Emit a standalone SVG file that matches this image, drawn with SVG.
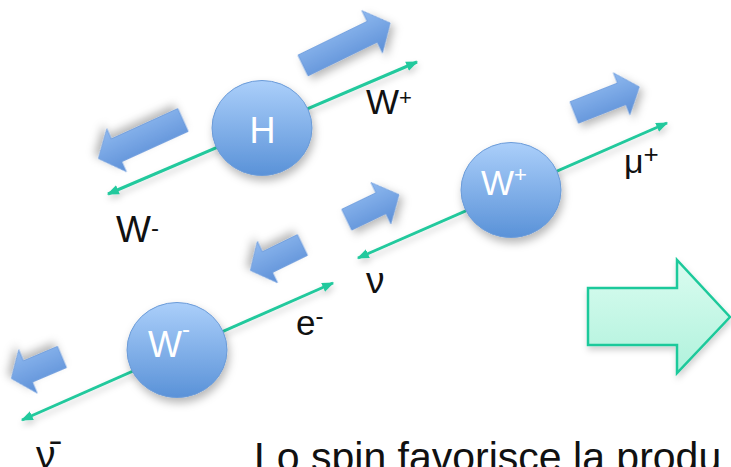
<svg xmlns="http://www.w3.org/2000/svg" width="731" height="467" viewBox="0 0 731 467">
<defs>
<linearGradient id="ball" x1="0" y1="0" x2="0" y2="1"><stop offset="0" stop-color="#abcffa"/><stop offset="1" stop-color="#5a92d8"/></linearGradient>
<linearGradient id="blk" x1="0" y1="0" x2="0" y2="1"><stop offset="0" stop-color="#8fb9ef"/><stop offset="1" stop-color="#5c8fd7"/></linearGradient>
<linearGradient id="blkR" x1="0" y1="1" x2="0" y2="0"><stop offset="0" stop-color="#8fb9ef"/><stop offset="1" stop-color="#5c8fd7"/></linearGradient>
<linearGradient id="mint" x1="0" y1="0" x2="0" y2="1"><stop offset="0" stop-color="#dafcf0"/><stop offset="1" stop-color="#b0f2dc"/></linearGradient>
<filter id="sh" x="-30%" y="-30%" width="160%" height="170%"><feDropShadow dx="2" dy="5" stdDeviation="4" flood-color="#000" flood-opacity="0.28"/></filter>
<filter id="shl" x="-10%" y="-30%" width="120%" height="160%"><feDropShadow dx="1" dy="4" stdDeviation="3" flood-color="#000" flood-opacity="0.18"/></filter>
<marker id="ah" viewBox="0 0 10 8" refX="9" refY="4" markerWidth="12" markerHeight="10" markerUnits="userSpaceOnUse" orient="auto-start-reverse"><path d="M0,0 L10,4 L0,8 Z" fill="#22c99d"/></marker>
</defs>
<style>
.ball{fill:url(#ball);stroke:#6b9bd8;stroke-width:1;filter:url(#sh)}
.blk{fill:url(#blk);stroke:#6a99dc;stroke-width:0.8;filter:url(#sh)}
.blkR{fill:url(#blkR);stroke:#6a99dc;stroke-width:0.8;filter:url(#sh)}
.ln{stroke:#22c99d;stroke-width:3;fill:none;marker-start:url(#ah);marker-end:url(#ah);filter:url(#shl)}
.lbl{font-family:"Liberation Sans",Arial,Helvetica,sans-serif;fill:#111}
.in{font-family:"Liberation Sans",Arial,Helvetica,sans-serif;fill:#fff}
</style>
<rect width="731" height="467" fill="#fff"/>

<g id="spin-arrows">
<path class="blk" transform="translate(303,65.5) rotate(-26)" d="M0,-11.5 H77 V-23.5 L97,0 L77,23.5 V11.5 H0 Z"/>
<path class="blkR" transform="translate(183,120) rotate(155.5)" d="M0,-12.5 H73 V-23.5 L93,0 L73,23.5 V12.5 H0 Z"/>
<path class="blk" transform="translate(346.7,219.7) rotate(-25.7)" d="M0,-11.5 H38 V-23 L58,0 L38,23 V11.5 H0 Z"/>
<path class="blk" transform="translate(574.2,112.5) rotate(-21.5)" d="M0,-11.5 H51 V-22.5 L70,0 L51,22.5 V11.5 H0 Z"/>
<path class="blkR" transform="translate(302.5,245) rotate(154)" d="M0,-11.5 H39 V-23 L58,0 L39,23 V11.5 H0 Z"/>
<path class="blkR" transform="translate(62,357) rotate(157)" d="M0,-11.5 H37 V-23.5 L55,0 L37,23.5 V11.5 H0 Z"/>
</g>

<g id="connectors">
<line class="ln" x1="108" y1="194" x2="417" y2="62"/>
<line class="ln" x1="358" y1="258" x2="667" y2="123"/>
<line class="ln" x1="22" y1="420" x2="333" y2="283"/>
</g>

<g id="H">
<ellipse class="ball" cx="262" cy="128" rx="50" ry="47.5"/>
<text class="in" x="262.5" y="143" font-size="36" text-anchor="middle">H</text>
</g>
<g id="Wplus">
<ellipse class="ball" cx="511" cy="190" rx="50" ry="47.5"/>
<text class="in" x="481" y="195" font-size="35">W<tspan font-size="22" dy="-13">+</tspan></text>
</g>
<g id="Wminus">
<ellipse class="ball" cx="177" cy="350" rx="50" ry="47.5"/>
<text class="in" x="148" y="357" font-size="36">W<tspan font-size="24" dy="-20">-</tspan></text>
</g>

<g id="labels">
<text class="lbl" x="366" y="114" font-size="35">W<tspan font-size="22" dy="-9">+</tspan></text>
<text class="lbl" x="116" y="242" font-size="37">W<tspan font-size="24" dy="-6">-</tspan></text>
<text class="lbl" x="624" y="173" font-size="34">μ<tspan font-size="26" dy="-10">+</tspan></text>
<text class="lbl" x="366" y="293" font-size="37">ν</text>
<text class="lbl" x="296" y="335" font-size="35">e<tspan font-size="24" dy="-11">-</tspan></text>
<text class="lbl" x="36" y="468" font-size="39">ν̄</text>
</g>

<g id="bigArrow">
<path d="M588,288 H677 V260 L730,317 L677,373 V345 H588 Z" fill="url(#mint)" stroke="#1fc99b" stroke-width="2.5" filter="url(#shl)"/>
</g>

<text class="lbl" x="254" y="471" font-size="41">Lo spin favorisce la produ</text>
</svg>
